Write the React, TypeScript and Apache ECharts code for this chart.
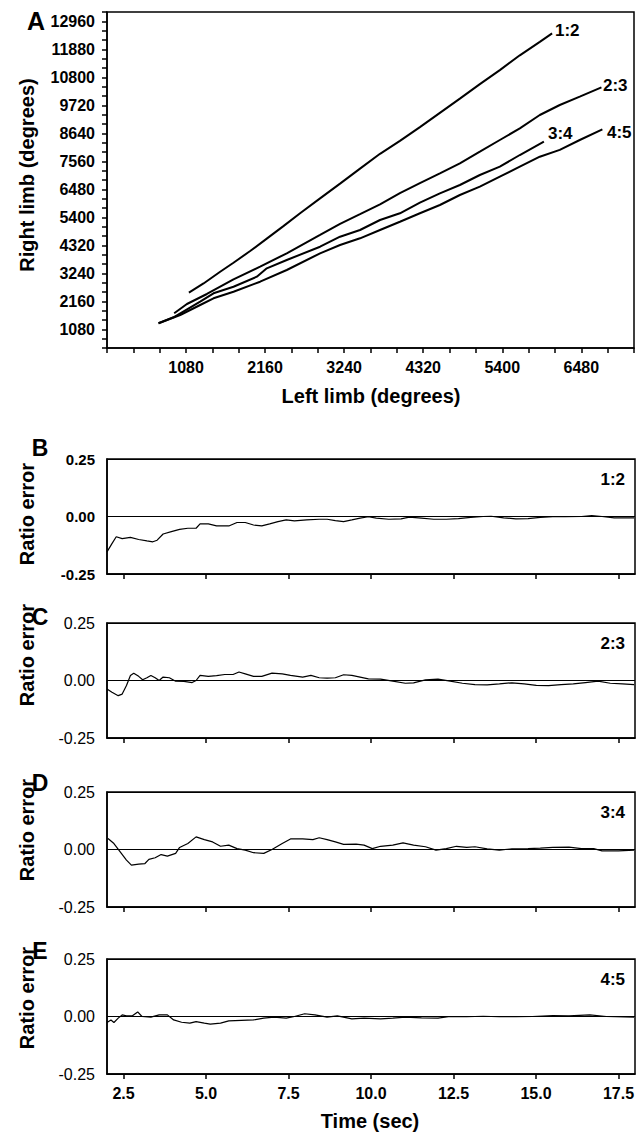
import React, { useEffect, useRef } from "react";
import * as echarts from "echarts";

const FONT = '"Liberation Sans", Arial, Helvetica, sans-serif';

// ---- Panel A: cumulative angle, left limb vs right limb (degrees)
const A_X_TICK_STEP = 360;
const A_LABEL_STEP = 1080;

const LEFT_12 = [1119, 1319, 1546, 1728, 1956, 2183, 2410, 2638, 2911, 3184, 3457, 3730, 4002, 4275, 4548, 4821, 5094, 5367, 5640, 5913, 6081];
const RIGHT_12 = [2493, 2850, 3300, 3650, 4100, 4580, 5060, 5560, 6130, 6700, 7280, 7850, 8350, 8880, 9430, 9980, 10540, 11080, 11650, 12170, 12498];

const LEFT_23 = [918, 1092, 1365, 1728, 2092, 2456, 2911, 3184, 3457, 3730, 4002, 4275, 4548, 4821, 5094, 5367, 5640, 5913, 6186, 6459, 6755];
const RIGHT_23 = [1698, 2057, 2443, 3010, 3496, 4013, 4719, 5150, 5520, 5900, 6330, 6720, 7098, 7484, 7932, 8383, 8834, 9347, 9733, 10053, 10415];

const LEFT_34 = [704, 909, 1273, 1455, 1728, 2047, 2183, 2456, 2911, 3184, 3457, 3730, 4002, 4275, 4548, 4821, 5094, 5367, 5640, 5969];
const RIGHT_34 = [1313, 1544, 2146, 2470, 2724, 3110, 3434, 3754, 4267, 4653, 4911, 5297, 5556, 5965, 6327, 6647, 7033, 7353, 7804, 8317];

const LEFT_45 = [704, 1000, 1273, 1455, 1728, 2092, 2456, 2911, 3184, 3457, 3730, 4002, 4275, 4548, 4821, 5094, 5367, 5640, 5913, 6186, 6459, 6768];
const RIGHT_45 = [1313, 1633, 2019, 2277, 2532, 2917, 3369, 4012, 4333, 4591, 4911, 5231, 5556, 5876, 6261, 6582, 6967, 7353, 7739, 8000, 8383, 8795];

// ---- Panels B-E: ratio error over time
const TIME_TICKS = [2.5, 5.0, 7.5, 10.0, 12.5, 15.0, 17.5];

const T_B = [2.0, 2.15, 2.28, 2.46, 2.71, 2.96, 3.21, 3.39, 3.52, 3.7, 3.95, 4.2, 4.45, 4.7, 4.82, 5.07, 5.32, 5.69, 5.94, 6.19, 6.44, 6.69, 6.93, 7.18, 7.43, 7.68, 8.05, 8.43, 8.67, 8.92, 9.17, 9.42, 9.67, 9.92, 10.16, 10.54, 10.91, 11.16, 11.53, 11.9, 12.28, 12.65, 13.02, 13.4, 13.64, 14.02, 14.39, 14.76, 15.13, 15.51, 15.88, 16.38, 16.69, 17.0, 17.37, 17.97];
const E_B = [-0.154, -0.118, -0.088, -0.096, -0.091, -0.1, -0.106, -0.11, -0.103, -0.076, -0.066, -0.056, -0.051, -0.051, -0.032, -0.032, -0.041, -0.041, -0.026, -0.026, -0.037, -0.041, -0.032, -0.022, -0.015, -0.019, -0.015, -0.012, -0.012, -0.018, -0.022, -0.015, -0.007, -0.001, -0.007, -0.012, -0.01, -0.003, -0.007, -0.012, -0.012, -0.009, -0.004, 0.0, 0.001, -0.006, -0.01, -0.009, -0.004, -0.001, -0.001, 0.0, 0.004, 0.0, -0.006, -0.006];

const T_C = [2.0, 2.15, 2.34, 2.46, 2.59, 2.71, 2.81, 2.96, 3.08, 3.21, 3.33, 3.46, 3.58, 3.7, 3.89, 4.08, 4.33, 4.58, 4.7, 4.82, 5.07, 5.32, 5.57, 5.82, 6.0, 6.19, 6.44, 6.69, 7.0, 7.31, 7.56, 7.93, 8.18, 8.43, 8.67, 8.92, 9.17, 9.42, 9.67, 9.92, 10.29, 10.66, 11.04, 11.29, 11.65, 12.03, 12.4, 12.77, 13.15, 13.52, 13.89, 14.27, 14.64, 15.01, 15.38, 15.76, 16.13, 16.5, 16.88, 17.25, 17.62, 17.97];
const E_C = [-0.037, -0.051, -0.066, -0.059, -0.022, 0.022, 0.032, 0.018, 0.003, 0.012, 0.022, 0.012, 0.0, 0.015, 0.012, -0.003, -0.004, -0.009, 0.0, 0.022, 0.018, 0.021, 0.026, 0.026, 0.037, 0.029, 0.018, 0.018, 0.032, 0.029, 0.022, 0.015, 0.022, 0.012, 0.01, 0.012, 0.025, 0.022, 0.015, 0.007, 0.006, -0.003, -0.012, -0.01, 0.003, 0.006, -0.003, -0.012, -0.018, -0.019, -0.015, -0.01, -0.015, -0.021, -0.022, -0.018, -0.015, -0.009, -0.003, -0.012, -0.015, -0.018];

const T_D = [2.03, 2.21, 2.4, 2.59, 2.74, 2.96, 3.15, 3.27, 3.46, 3.64, 3.83, 4.08, 4.2, 4.45, 4.7, 4.95, 5.2, 5.44, 5.69, 5.94, 6.19, 6.44, 6.75, 7.0, 7.31, 7.56, 7.93, 8.24, 8.43, 8.67, 8.92, 9.17, 9.55, 9.79, 10.04, 10.29, 10.66, 10.97, 11.29, 11.65, 11.97, 12.28, 12.59, 12.9, 13.15, 13.52, 13.89, 14.27, 14.76, 15.13, 15.51, 16.0, 16.38, 16.75, 17.0, 17.5, 17.97];
const E_D = [0.048, 0.026, -0.01, -0.046, -0.068, -0.064, -0.061, -0.043, -0.036, -0.022, -0.029, -0.017, 0.009, 0.026, 0.055, 0.043, 0.033, 0.014, 0.019, 0.004, -0.003, -0.014, -0.017, 0.0, 0.026, 0.046, 0.046, 0.043, 0.051, 0.043, 0.033, 0.022, 0.023, 0.019, 0.004, 0.014, 0.019, 0.029, 0.019, 0.012, -0.003, 0.004, 0.014, 0.009, 0.012, 0.003, -0.003, 0.003, 0.004, 0.006, 0.009, 0.01, 0.004, 0.004, -0.006, -0.006, -0.003];

const T_E = [2.0, 2.12, 2.21, 2.34, 2.46, 2.59, 2.77, 2.93, 3.06, 3.33, 3.58, 3.83, 4.02, 4.26, 4.51, 4.7, 4.95, 5.13, 5.44, 5.69, 6.07, 6.44, 6.75, 7.06, 7.43, 7.68, 7.99, 8.3, 8.67, 8.98, 9.42, 9.79, 10.29, 10.66, 11.04, 11.53, 12.03, 12.4, 12.9, 13.4, 13.89, 14.39, 14.89, 15.51, 16.0, 16.63, 17.13, 17.97];
const E_E = [-0.026, -0.015, -0.026, -0.007, 0.007, 0.003, 0.003, 0.02, 0.0, -0.003, 0.007, 0.007, -0.015, -0.025, -0.029, -0.022, -0.029, -0.033, -0.029, -0.019, -0.017, -0.015, -0.007, -0.003, -0.007, 0.0, 0.012, 0.007, -0.003, 0.003, -0.01, -0.007, -0.01, -0.007, -0.003, -0.006, -0.007, 0.0, -0.001, 0.001, -0.001, -0.001, 0.0, 0.004, 0.003, 0.007, 0.0, -0.003];

const pairs = (xs: number[], ys: number[]) => xs.map((x, i) => [x, ys[i]]);

const BOTTOM_PANELS = [
  { t: T_B, e: E_B, top: 459, ratio: "1:2", letter: "B", letterY: 448, titleY: 514, boldY: true },
  { t: T_C, e: E_C, top: 623, ratio: "2:3", letter: "C", letterY: 617, titleY: 655, boldY: false },
  { t: T_D, e: E_D, top: 792, ratio: "3:4", letter: "D", letterY: 783, titleY: 830, boldY: false },
  { t: T_E, e: E_E, top: 959, ratio: "4:5", letter: "E", letterY: 951, titleY: 998, boldY: false },
];

const txt = (text: string, x: number, y: number, size: number, opts: any = {}) => ({
  type: "text",
  x,
  y,
  rotation: opts.rotation || 0,
  style: {
    text,
    fill: "#000",
    font: `${opts.weight || "bold"} ${size}px ${FONT}`,
    textAlign: opts.align || "center",
    textVerticalAlign: "middle",
    align: opts.align || "center",
    verticalAlign: "middle",
  },
});

export default function App() {
  const ref = useRef<HTMLDivElement>(null);

  useEffect(() => {
    document.body.style.margin = "0";
    if (!ref.current) return;
    const chart = echarts.init(ref.current, undefined, { renderer: "svg" });

    const axisLine = { show: true, onZero: false, lineStyle: { color: "#000", width: 1.5 } };
    const grids: any[] = [
      { left: 107, top: 12, width: 527, height: 336, show: true, borderColor: "#000", borderWidth: 1.5, containLabel: false },
    ];
    const xAxes: any[] = [
      {
        type: "value",
        gridIndex: 0,
        min: 0,
        max: 7200,
        interval: A_X_TICK_STEP,
        axisLine,
        axisTick: { show: true, length: 5, lineStyle: { color: "#000", width: 1.5 } },
        axisLabel: {
          color: "#000",
          fontFamily: FONT,
          fontWeight: "bold",
          fontSize: 16,
          margin: 11,
          formatter: (v: number) => (v > 0 && v % A_LABEL_STEP === 0 ? String(v) : ""),
        },
        splitLine: { show: false },
      },
    ];
    const yAxes: any[] = [
      {
        type: "value",
        gridIndex: 0,
        min: 360,
        max: 13320,
        interval: A_X_TICK_STEP,
        axisLine,
        axisTick: { show: true, length: 5, lineStyle: { color: "#000", width: 1.5 } },
        axisLabel: {
          color: "#000",
          fontFamily: FONT,
          fontWeight: "bold",
          fontSize: 16,
          margin: 12,
          formatter: (v: number) => (v % A_LABEL_STEP === 0 ? String(v) : ""),
        },
        splitLine: { show: false },
      },
    ];
    const lineA = (name: string, xs: number[], ys: number[]) => ({
      type: "line",
      name,
      xAxisIndex: 0,
      yAxisIndex: 0,
      data: pairs(xs, ys),
      showSymbol: false,
      symbol: "none",
      lineStyle: { color: "#000", width: 2 },
      z: 5,
    });
    const series: any[] = [
      lineA("1:2", LEFT_12, RIGHT_12),
      lineA("2:3", LEFT_23, RIGHT_23),
      lineA("3:4", LEFT_34, RIGHT_34),
      lineA("4:5", LEFT_45, RIGHT_45),
    ];
    const graphics: any[] = [
      txt("A", 36, 21, 25),
      txt("Right limb (degrees)", 27, 175, 20, { rotation: Math.PI / 2 }),
      txt("Left limb (degrees)", 371, 396, 20),
      txt("1:2", 555, 30, 17, { align: "left" }),
      txt("2:3", 603, 85, 17, { align: "left" }),
      txt("3:4", 548, 133, 17, { align: "left" }),
      txt("4:5", 607, 132, 17, { align: "left" }),
      txt("Time (sec)", 370, 1121, 20),
    ];

    BOTTOM_PANELS.forEach((p, k) => {
      const gi = k + 1;
      const isLast = k === BOTTOM_PANELS.length - 1;
      grids.push({ left: 107, top: p.top, width: 528, height: 115, show: true, borderColor: "#000", borderWidth: 1.5 });
      xAxes.push({
        type: "value",
        gridIndex: gi,
        min: 2,
        max: 18,
        axisLine,
        axisTick: { show: true, customValues: TIME_TICKS, length: 5, lineStyle: { color: "#000", width: 1.5 } },
        axisLabel: {
          show: isLast,
          customValues: TIME_TICKS,
          color: "#000",
          fontFamily: FONT,
          fontWeight: "bold",
          fontSize: 16,
          margin: 11,
          formatter: (v: number) => v.toFixed(1),
        },
        splitLine: { show: false },
      });
      yAxes.push({
        type: "value",
        gridIndex: gi,
        min: -0.25,
        max: 0.25,
        interval: 0.25,
        axisLine,
        axisTick: { show: false },
        axisLabel: {
          color: "#000",
          fontFamily: FONT,
          fontWeight: p.boldY ? "bold" : "normal",
          fontSize: p.boldY ? 15 : 16,
          margin: 12,
          formatter: (v: number) => v.toFixed(2),
        },
        splitLine: { show: true, lineStyle: { color: "#000", width: 1 } },
      });
      series.push({
        type: "line",
        xAxisIndex: gi,
        yAxisIndex: gi,
        data: pairs(p.t, p.e),
        showSymbol: false,
        symbol: "none",
        lineStyle: { color: "#000", width: 1.2 },
        z: 5,
      });
      graphics.push(txt(p.letter, 40, p.letterY, 23));
      graphics.push(txt("Ratio error", 27, p.titleY, 20, { rotation: Math.PI / 2 }));
      graphics.push(txt(p.ratio, 625, p.top + 20, 17, { align: "right" }));
    });

    chart.setOption({
      animation: false,
      backgroundColor: "#fff",
      textStyle: { fontFamily: FONT },
      grid: grids,
      xAxis: xAxes,
      yAxis: yAxes,
      series,
      graphic: graphics,
    });

    return () => chart.dispose();
  }, []);

  return <div ref={ref} style={{ width: 642, height: 1132 }} />;
}
